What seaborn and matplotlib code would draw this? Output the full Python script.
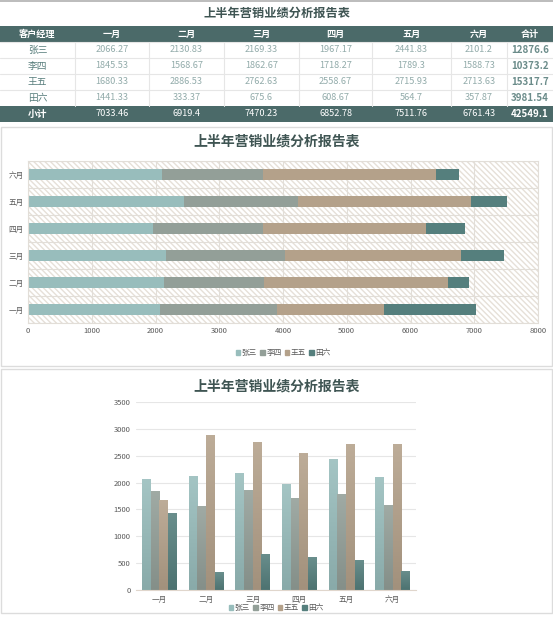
import numpy as np
import pandas as pd
import matplotlib
matplotlib.use("Agg")
import matplotlib.pyplot as plt
from matplotlib.patches import Rectangle
from matplotlib.colors import to_rgb, LinearSegmentedColormap
import seaborn as sns

# data
months = ["一月", "二月", "三月", "四月", "五月", "六月"]
managers = ["张三", "李四", "王五", "田六"]
zhang = [2066.27, 2130.83, 2169.33, 1967.17, 2441.83, 2101.2]
li = [1845.53, 1568.67, 1862.67, 1718.27, 1789.3, 1588.73]
wang = [1680.33, 2886.53, 2762.63, 2558.67, 2715.93, 2713.63]
tian = [1441.33, 333.37, 675.6, 608.67, 564.7, 357.87]
title = "上半年营销业绩分析报告表"

colors = ["#98bdbc", "#939f98", "#b4a18a", "#557f7d"]
dark = "#4b6a69"
title_col = "#3f5553"

sns.set_style("white")
plt.rcParams["font.family"] = ["Noto Sans CJK SC", "DejaVu Sans"]

W, H = 553, 617
fig = plt.figure(figsize=(W / 100, H / 100), dpi=100)


def box(x0, y0, x1, y1):
    return [x0 / W, 1 - y1 / H, (x1 - x0) / W, (y1 - y0) / H]


def frame(x0, y0, x1, y1, ec="#dcdcdc"):
    fig.add_artist(Rectangle((x0 / W, 1 - y1 / H), (x1 - x0) / W, (y1 - y0) / H,
                             transform=fig.transFigure, fill=False, ec=ec, lw=1))


series = {"张三": zhang, "李四": li, "王五": wang, "田六": tian}
df = pd.DataFrame(series, index=months)

# ---------------- table ----------------
fig.add_artist(plt.Line2D([0, 1], [1 - 1 / H, 1 - 1 / H], transform=fig.transFigure,
                          color="#b0b0b0", lw=1.2))
fig.text(0.5, 1 - 13 / H, title, ha="center", va="center", fontsize=8.8,
         fontweight="bold", color=title_col)

tax = fig.add_axes(box(0, 26, 553, 122))
tax.set_xlim(0, 553)
tax.set_ylim(6, 0)
tax.axis("off")
edges = [0, 75, 149, 224, 299, 372, 451, 507, 553]
centers = [(a + b) / 2 for a, b in zip(edges[:-1], edges[1:])]

header = ["客户经理"] + months + ["合计"]
tax.add_patch(Rectangle((0, 0), 553, 1, color=dark, lw=0))
tax.add_patch(Rectangle((0, 5), 553, 1, color=dark, lw=0))
for i in range(1, 5):
    tax.plot([0, 553], [i, i], color="#e6e6e6", lw=0.8)
for e in edges[1:-1]:
    tax.plot([e, e], [1, 5], color="#e6e6e6", lw=0.8)

for c, h in zip(centers, header):
    tax.text(c, 0.5, h, ha="center", va="center", color="white",
             fontsize=6.6, fontweight="bold")
for r, m in enumerate(managers):
    vals = series[m]
    y = r + 1.5
    tax.text(centers[0], y, m, ha="center", va="center", color="#5b807e", fontsize=7)
    for c, v in zip(centers[1:-1], vals):
        tax.text(c, y, f"{v:.6g}", ha="center", va="center", color="#93acab", fontsize=6.6)
    tax.text(centers[-1], y, f"{sum(vals):.6g}", ha="center", va="center",
             color="#6b8c8a", fontsize=7, fontweight="bold")
month_tot = df.sum(axis=1).tolist()
tax.text(centers[0], 5.5, "小计", ha="center", va="center", color="white",
         fontsize=7, fontweight="bold")
for c, v in zip(centers[1:-1], month_tot):
    tax.text(c, 5.5, f"{v:.6g}", ha="center", va="center", color="white", fontsize=6.6)
tax.text(centers[-1], 5.5, f"{sum(month_tot):.6g}", ha="center", va="center",
         color="white", fontsize=7, fontweight="bold")

# ---------------- stacked horizontal bar ----------------
frame(1, 127, 552, 366)
fig.text(0.5, 1 - 141 / H, title, ha="center", va="center", fontsize=10,
         fontweight="bold", color=title_col)
ax2 = fig.add_axes(box(28, 161, 538, 323))
ax2.add_patch(Rectangle((0, 0), 1, 1, transform=ax2.transAxes, facecolor="white",
                        edgecolor="#e6e0d8", hatch="\\\\\\\\\\\\", lw=0, zorder=0))
order = months[::-1]
cum = df.cumsum(axis=1)
for m, col in reversed(list(zip(managers, colors))):
    sns.barplot(x=cum[m].values, y=months, order=order, orient="h", color=col,
                saturation=1, width=0.41, ax=ax2, zorder=2, linewidth=0)
ax2.set_xlim(0, 8000)
ax2.set_xticks(range(0, 8001, 1000))
ax2.set_yticks(np.arange(-0.5, 6, 1), minor=True)
ax2.set_axisbelow(True)
ax2.grid(axis="x", which="major", color="#e2ded8", lw=0.8)
ax2.grid(axis="y", which="minor", color="#e2ded8", lw=0.8)
ax2.tick_params(axis="both", which="both", length=0, labelsize=5.5, colors="#595959", pad=3)
for s in ax2.spines.values():
    s.set_color("#e2ded8")
    s.set_linewidth(0.8)
ax2.set_xlabel("")
ax2.set_ylabel("")
h2 = [Rectangle((0, 0), 1, 1, color=c) for c in colors]
ax2.legend(h2, managers, loc="center", bbox_to_anchor=(0.5, 1 - (353 - 161) / (323 - 161)),
           ncol=4, frameon=False, fontsize=5.5, handlelength=0.6, handleheight=0.6,
           handletextpad=0.2, columnspacing=0.4, labelcolor="#595959")

# ---------------- grouped vertical bar ----------------
frame(1, 369, 552, 613)
fig.text(0.5, 1 - 386 / H, title, ha="center", va="center", fontsize=10,
         fontweight="bold", color=title_col)
ax3 = fig.add_axes(box(136, 402, 416, 590))
long = df.reset_index(names="月份").melt(id_vars="月份", var_name="经理", value_name="销售额")
sns.barplot(data=long, x="月份", y="销售额", hue="经理", order=months, hue_order=managers,
            palette=colors, saturation=1, width=0.74, gap=0, ax=ax3, linewidth=0, legend=False)
ax3.set_ylim(0, 3500)
xl = ax3.get_xlim()

# soft vertical gradient on every bar, as in the original
for p in list(ax3.patches):
    base = np.array(to_rgb(p.get_facecolor()))
    top = base + (1 - base) * 0.12
    bot = base * 0.9
    cmap = LinearSegmentedColormap.from_list("g", [bot, top])
    x0, y0 = p.get_x(), p.get_y()
    im = ax3.imshow(np.linspace(0, 1, 64).reshape(-1, 1), cmap=cmap, aspect="auto",
                    origin="lower", extent=[x0, x0 + p.get_width(), y0, y0 + p.get_height()],
                    zorder=p.get_zorder() + 0.1)
    im.set_clip_path(p)
ax3.set_xlim(xl)
ax3.set_ylim(0, 3500)
ax3.set_yticks(range(0, 3501, 500))
ax3.set_axisbelow(True)
ax3.grid(axis="y", color="#e6e6e6", lw=0.8)
ax3.grid(axis="x", visible=False)
for k in ["left", "right", "top"]:
    ax3.spines[k].set_visible(False)
ax3.spines["bottom"].set_color("#e0d6cc")
ax3.spines["bottom"].set_linewidth(0.8)
ax3.tick_params(axis="both", length=0, labelsize=5.5, colors="#595959", pad=4)
ax3.set_xlabel("")
ax3.set_ylabel("")
h3 = [Rectangle((0, 0), 1, 1, color=c) for c in colors]
ax3.legend(h3, managers, loc="center", bbox_to_anchor=(0.5, -(608 - 590) / (590 - 402)),
           ncol=4, frameon=False, fontsize=5.5, handlelength=0.6, handleheight=0.6,
           handletextpad=0.2, columnspacing=0.4, labelcolor="#595959")

fig.savefig("out.png", dpi=100)
